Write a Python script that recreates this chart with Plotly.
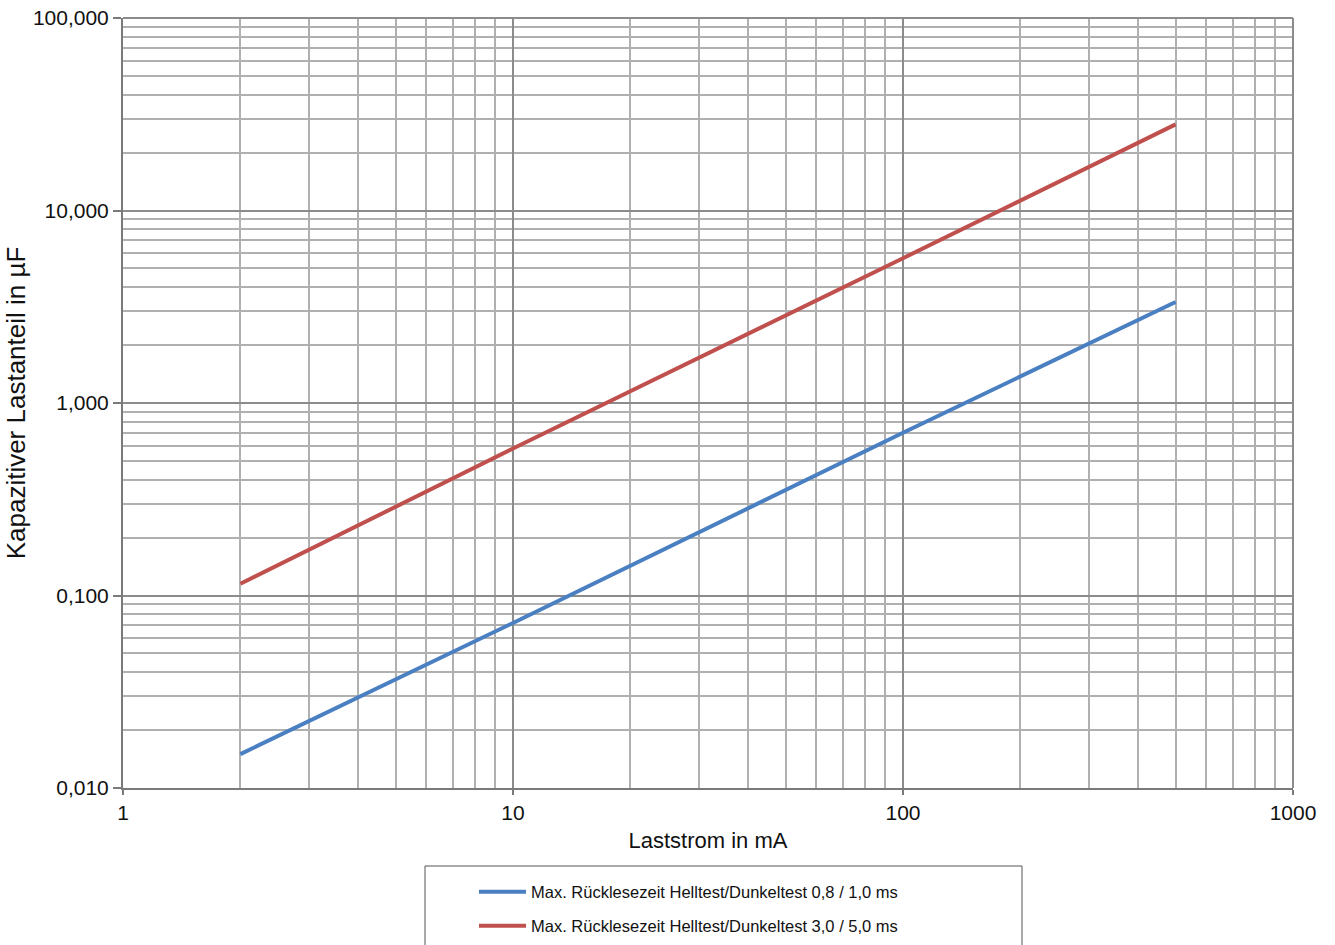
import plotly.graph_objects as go

# Data
current_mA = [2, 10, 100, 500]
cap_fast = [0.015, 0.072, 0.70, 3.35]     # 0,8 / 1,0 ms
cap_slow = [0.115, 0.58, 5.65, 28.0]      # 3,0 / 5,0 ms

series_names = [
    "Max. Rücklesezeit Helltest/Dunkeltest 0,8 / 1,0 ms",
    "Max. Rücklesezeit Helltest/Dunkeltest 3,0 / 5,0 ms",
]
series_colors = ["#4a80c2", "#c0504d"]

x_tickvals = [1, 10, 100, 1000]
x_ticktext = ["1", "10", "100", "1000"]
y_tickvals = [0.01, 0.1, 1, 10, 100]
y_ticktext = ["0,010", "0,100", "1,000", "10,000", "100,000"]

FONT = "Liberation Sans, Arial, sans-serif"

fig = go.Figure()
fig.add_trace(go.Scatter(x=current_mA, y=cap_fast, mode="lines", name=series_names[0],
                         line=dict(color=series_colors[0], width=4), legend="legend"))
fig.add_trace(go.Scatter(x=current_mA, y=cap_slow, mode="lines", name=series_names[1],
                         line=dict(color=series_colors[1], width=4), legend="legend2"))

W, H = 1335, 945
ml, mr, mt, mb = 123, 42, 18, 157

axis_common = dict(
    type="log",
    showline=True, linecolor="#7a7a7a", linewidth=2, mirror=False,
    showgrid=True, gridcolor="#8c8c8c", gridwidth=1.5,
    ticks="outside", tickcolor="#7a7a7a", tickwidth=1.5,
    tickfont=dict(family=FONT, size=21, color="#111"),
    zeroline=False,
    minor=dict(dtick="D1", showgrid=True, gridcolor="#b0b0b0", gridwidth=1.5, ticks=""),
)

fig.update_xaxes(**axis_common, ticklen=5, range=[0, 3], tickvals=x_tickvals, ticktext=x_ticktext,
                 title=dict(text="Laststrom in mA", font=dict(family=FONT, size=22, color="#111"),
                            standoff=9))
fig.update_yaxes(**axis_common, ticklen=8, range=[-2, 2], tickvals=y_tickvals, ticktext=y_ticktext,
                 title=dict(text="Kapazitiver Lastanteil in µF", font=dict(family=FONT, size=26, color="#111"),
                            standoff=0))

legend_common = dict(
    bgcolor="rgba(0,0,0,0)", borderwidth=0,
    font=dict(family=FONT, size=16.5, color="#111"),
    xanchor="left", yanchor="middle", xref="paper", yref="paper",
    itemwidth=47,
)

def px_x(px):
    return (px - ml) / (W - ml - mr)

def px_y(py):
    return (H - mb - py) / (H - mt - mb)

fig.update_layout(
    width=W, height=H,
    margin=dict(l=ml, r=mr, t=mt, b=mb, autoexpand=False),
    plot_bgcolor="white", paper_bgcolor="white",
    showlegend=True,
    legend=dict(**legend_common, x=px_x(474), y=px_y(892)),
    legend2=dict(**legend_common, x=px_x(474), y=px_y(926)),
    shapes=[
        dict(type="line", xref="paper", yref="paper", x0=1, x1=1, y0=0, y1=1,
             line=dict(color="#8c8c8c", width=2)),
        dict(type="line", xref="paper", yref="paper", x0=0, x1=1, y0=1, y1=1,
             line=dict(color="#8c8c8c", width=2)),
        dict(type="rect", xref="paper", yref="paper",
             x0=px_x(425), x1=px_x(1022), y0=px_y(960), y1=px_y(866),
             line=dict(color="#555", width=1), fillcolor="rgba(0,0,0,0)", layer="below"),
    ],
)

fig.write_html("out.html", config={"displayModeBar": False},
               post_script="document.body.style.margin='0px';")
